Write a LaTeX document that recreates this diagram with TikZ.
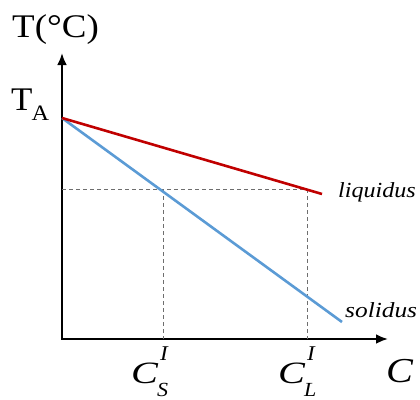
\documentclass[tikz,border=0pt]{standalone}
\usepackage{amsmath}
\usepackage{fontspec}
\setmainfont{Liberation Serif}
\usetikzlibrary{arrows.meta,positioning}
\definecolor{liqred}{RGB}{192,0,0}
\definecolor{solblue}{RGB}{91,155,213}
\definecolor{guidegray}{RGB}{110,110,110}
\newcommand{\wide}[1]{\scalebox{1.12}[1]{#1}}
% C with superscript I and a subscript (#1), #2 = shift of the subscript
\newcommand{\cphase}[2]{\scalebox{1.3}[1]{\fontsize{31}{31}\selectfont\itshape C}\kern2pt%
  \rlap{\raisebox{23pt}{\scalebox{1.1}[1]{\fontsize{21}{21}\selectfont\itshape I}}}%
  \kern#2\raisebox{-13pt}{\scalebox{1.1}[1]{\fontsize{20}{20}\selectfont\itshape #1}}}

\begin{document}
\begin{tikzpicture}[x=1pt,y=-1pt,
  axis/.style={{Latex[length=12pt,width=10pt]}-{Latex[length=12pt,width=10pt]},line width=2.6pt},
  curve/.style={line width=2.6pt},
  guide/.style={guidegray,line width=0.7pt,dash pattern=on 4pt off 3pt},
  lbl/.style={inner sep=0pt,anchor=base west}]
\useasboundingbox (0,0) rectangle (420,399);
% axes
\coordinate (O) at (62,339);
\coordinate (ytip) at (62,53);
\coordinate (xtip) at (388,339);
\draw[axis] (ytip) -- (O) -- (xtip);
% lines
\coordinate (TA) at (62,118);
\coordinate (liqend) at (322,194);
\coordinate (solend) at (342,322);
\coordinate (cs) at (163,189);
\coordinate (cl) at (307,189);
\draw[guide] (TA|-cl) -- (cl);
\draw[guide] (cs) -- (cs|-O);
\draw[guide] (cl) -- (cl|-O);
\draw[curve,solblue] (TA) -- (solend);
\draw[curve,liqred] (TA) -- (liqend);
% labels
\node[lbl,font=\fontsize{33}{33}\selectfont] (tlab) at (12,37) {\wide{T(°C)}};
\node[lbl,font=\fontsize{33}{33}\selectfont] (talab) at (11,110)
  {\scalebox{1.06}[1]{T}\kern-1pt\raisebox{-10pt}{\scalebox{1.1}[1]{\fontsize{22}{22}\selectfont A}}};
\node[lbl,font=\fontsize{21.5}{22}\selectfont\itshape] (liqlab) at (338,197) {\wide{liquidus}};
\node[lbl,font=\fontsize{21.5}{22}\selectfont\itshape] (sollab) at (345,317) {\scalebox{1.18}[1]{solidus}};
\node[lbl] (cslab) at (131,383) {\cphase{S}{-3pt}};
\node[lbl] (cllab) at (278,383) {\cphase{L}{-3pt}};
\node[lbl,font=\fontsize{35}{35}\selectfont] (clab) at (386,382) {\scalebox{1.15}[1]{\itshape C}};
\end{tikzpicture}
\end{document}
